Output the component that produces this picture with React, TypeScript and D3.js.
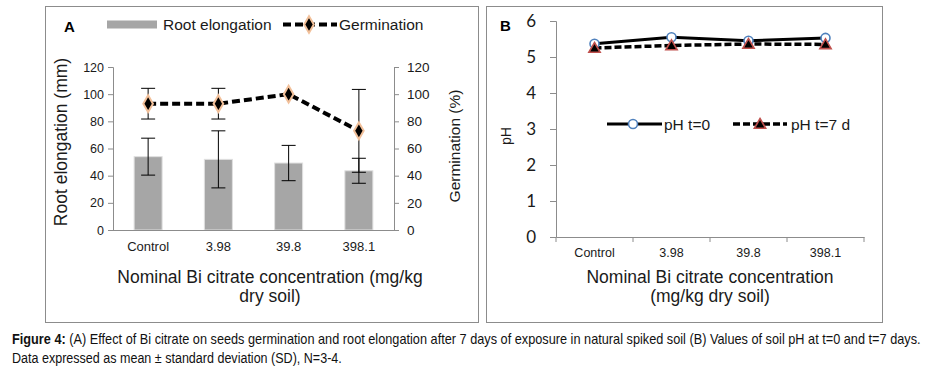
import React, { useEffect, useRef } from "react";
import * as d3 from "d3";

// shared categories
const concentrations = ["Control", "3.98", "39.8", "398.1"];

// panel A
const rootElongation = [54, 52, 49.3, 43.6];
const rootSD = [13.6, 21, 13, 9.2];
const germination = [93, 93, 100, 73];
const germinationSD = [11.3, 11.3, 0, 30.5];
const axisATicks = [0, 20, 40, 60, 80, 100, 120];

// panel B
const phT0 = [5.37, 5.55, 5.45, 5.53];
const phT7 = [5.25, 5.32, 5.36, 5.35];
const axisBTicks = [0, 1, 2, 3, 4, 5, 6];

const captionLine1 = "(A) Effect of Bi citrate on seeds germination and root elongation after 7 days of exposure in natural spiked soil (B) Values of soil pH at t=0 and t=7 days.";
const captionLine2 = "Data expressed as mean \u00b1 standard deviation (SD), N=3-4.";

const FONT = "'Liberation Sans', Arial, sans-serif";

export default function App() {
  const ref = useRef<SVGSVGElement>(null);

  useEffect(() => {
    document.body.style.margin = "0";
    const svg = d3.select(ref.current);
    svg.selectAll("*").remove();
    svg.style("font-family", FONT);

    // ---------- panel boxes ----------
    svg.append("rect").attr("x", 45.5).attr("y", 6.5).attr("width", 433).attr("height", 316)
      .attr("fill", "white").attr("stroke", "#8c8c8c").attr("stroke-width", 1);
    svg.append("rect").attr("x", 486.5).attr("y", 6.5).attr("width", 396).attr("height", 316)
      .attr("fill", "white").attr("stroke", "#8c8c8c").attr("stroke-width", 1);

    // ========== PANEL A ==========
    const gA = svg.append("g");
    const xA = d3.scaleBand().domain(concentrations).range([113, 394]);
    const yA = d3.scaleLinear().domain([0, 120]).range([230, 67]);

    const leftAxis = gA.append("g").attr("transform", "translate(113,0)")
      .call(d3.axisLeft(yA).tickValues(axisATicks).tickSize(5).tickPadding(4));
    const rightAxis = gA.append("g").attr("transform", "translate(394,0)")
      .call(d3.axisRight(yA).tickValues(axisATicks).tickSize(5).tickPadding(8));
    [leftAxis, rightAxis].forEach(ax => {
      ax.select(".domain").attr("stroke", "#8c8c8c");
      ax.selectAll(".tick line").attr("stroke", "#8c8c8c");
      ax.selectAll("text").attr("font-size", 12.5).attr("font-family", FONT).attr("fill", "#1a1a1a");
    });
    rightAxis.selectAll("text").attr("font-size", 13.5);

    // bars
    gA.selectAll(".bar").data(rootElongation).join("rect")
      .attr("x", (d, i) => xA(concentrations[i])! + xA.bandwidth() / 2 - 14)
      .attr("y", d => yA(d))
      .attr("width", 28)
      .attr("height", d => yA(0) - yA(d))
      .attr("fill", "#a6a6a6").attr("stroke", "#e0e0e0").attr("stroke-width", 1);

    gA.append("line").attr("x1", 113).attr("x2", 394).attr("y1", 230.5).attr("y2", 230.5)
      .attr("stroke", "#8c8c8c");

    const cx = (i: number) => xA(concentrations[i])! + xA.bandwidth() / 2;

    // error bars
    const errBar = (g: any, x: number, lo: number, hi: number) => {
      g.append("line").attr("x1", x).attr("x2", x).attr("y1", lo).attr("y2", hi).attr("stroke", "black");
      g.append("line").attr("x1", x - 7).attr("x2", x + 7).attr("y1", lo).attr("y2", lo).attr("stroke", "black");
      g.append("line").attr("x1", x - 7).attr("x2", x + 7).attr("y1", hi).attr("y2", hi).attr("stroke", "black");
    };
    rootElongation.forEach((d, i) => errBar(gA, cx(i), yA(d - rootSD[i]), yA(d + rootSD[i])));
    germination.forEach((d, i) => {
      if (germinationSD[i] > 0) errBar(gA, cx(i), yA(d - germinationSD[i]), yA(d + germinationSD[i]));
    });

    // germination line
    const lineA = d3.line<number>().x((d, i) => cx(i)).y(d => yA(d));
    gA.append("path").datum(germination).attr("d", lineA)
      .attr("fill", "none").attr("stroke", "black").attr("stroke-width", 4)
      .attr("stroke-dasharray", "8,4");
    const diamond = d3.symbol().type(d3.symbolDiamond).size(80);
    gA.selectAll(".dia").data(germination).join("path")
      .attr("d", diamond)
      .attr("transform", (d, i) => `translate(${cx(i)},${yA(d)})`)
      .attr("fill", "black").attr("stroke", "#f2c09a").attr("stroke-width", 2);

    gA.selectAll(".xl").data(concentrations).join("text")
      .attr("x", (d, i) => cx(i)).attr("y", 251)
      .attr("text-anchor", "middle").attr("font-size", 13).attr("fill", "#1a1a1a")
      .text(d => d);

    // titles
    gA.append("text").attr("x", 270).attr("y", 283).attr("text-anchor", "middle")
      .attr("font-size", 17.5).attr("fill", "#1a1a1a").text("Nominal Bi citrate concentration (mg/kg");
    gA.append("text").attr("x", 270).attr("y", 302).attr("text-anchor", "middle")
      .attr("font-size", 17.5).attr("fill", "#1a1a1a").text("dry soil)");
    gA.append("text").attr("transform", "translate(67,142) rotate(-90)").attr("text-anchor", "middle")
      .attr("font-size", 17.5).attr("fill", "#1a1a1a").text("Root elongation (mm)");
    gA.append("text").attr("transform", "translate(460,146) rotate(-90)").attr("text-anchor", "middle")
      .attr("font-size", 15.5).attr("fill", "#1a1a1a").text("Germination (%)");
    gA.append("text").attr("x", 64).attr("y", 32).attr("font-size", 15).attr("font-weight", "bold")
      .text("A");

    // legend A
    gA.append("rect").attr("x", 107).attr("y", 20.5).attr("width", 50).attr("height", 8).attr("fill", "#a6a6a6");
    gA.append("text").attr("x", 163).attr("y", 29.5).attr("font-size", 15.5).attr("fill", "#1a1a1a").text("Root elongation");
    gA.append("line").attr("x1", 283).attr("x2", 337).attr("y1", 24.5).attr("y2", 24.5)
      .attr("stroke", "black").attr("stroke-width", 4).attr("stroke-dasharray", "8,4");
    gA.append("path").attr("d", diamond).attr("transform", "translate(309,24.5)")
      .attr("fill", "black").attr("stroke", "#f2c09a").attr("stroke-width", 2);
    gA.append("text").attr("x", 339).attr("y", 29.5).attr("font-size", 15.5).attr("fill", "#1a1a1a").text("Germination");

    // ========== PANEL B ==========
    const gB = svg.append("g");
    const xB = d3.scaleBand().domain(concentrations).range([556, 864]);
    const yB = d3.scaleLinear().domain([0, 6]).range([237, 21]);
    const bx = (i: number) => xB(concentrations[i])! + xB.bandwidth() / 2;

    const leftB = gB.append("g").attr("transform", "translate(556,0)")
      .call(d3.axisLeft(yB).tickValues(axisBTicks).tickFormat(d3.format("d")).tickSize(6).tickPadding(14));
    leftB.select(".domain").attr("stroke", "#8c8c8c");
    leftB.selectAll(".tick line").attr("stroke", "#8c8c8c");
    leftB.selectAll("text").attr("font-size", 17).attr("font-family", "Lato, 'Open Sans', sans-serif")
      .attr("fill", "#1a1a1a");

    const bottomB = gB.append("g").attr("transform", "translate(0,237)")
      .call(d3.axisBottom(xB).tickSize(0).tickPadding(11));
    bottomB.select(".domain").attr("stroke", "#8c8c8c");
    bottomB.selectAll("text").attr("font-size", 12.5).attr("font-family", FONT).attr("fill", "#1a1a1a");
    // category boundary ticks
    gB.selectAll(".bt").data(concentrations.concat([""])).join("line")
      .attr("x1", (d, i) => 556 + i * xB.step()).attr("x2", (d, i) => 556 + i * xB.step())
      .attr("y1", 237).attr("y2", 242).attr("stroke", "#8c8c8c");

    const lineB = d3.line<number>().x((d, i) => bx(i)).y(d => yB(d));
    gB.append("path").datum(phT7).attr("d", lineB).attr("fill", "none")
      .attr("stroke", "black").attr("stroke-width", 3.5).attr("stroke-dasharray", "7,3");
    gB.append("path").datum(phT0).attr("d", lineB).attr("fill", "none")
      .attr("stroke", "black").attr("stroke-width", 3);

    const tri = d3.symbol().type(d3.symbolTriangle).size(55);
    gB.selectAll(".c0").data(phT0).join("circle")
      .attr("cx", (d, i) => bx(i)).attr("cy", d => yB(d)).attr("r", 4.5)
      .attr("fill", "white").attr("stroke", "#4f81bd").attr("stroke-width", 1.6);
    gB.selectAll(".t7").data(phT7).join("path")
      .attr("d", tri).attr("transform", (d, i) => `translate(${bx(i)},${yB(d) + 1})`)
      .attr("fill", "black").attr("stroke", "#c0504d").attr("stroke-width", 1.6);

    // legend B
    gB.append("line").attr("x1", 607).attr("x2", 662).attr("y1", 124).attr("y2", 124)
      .attr("stroke", "black").attr("stroke-width", 3);
    gB.append("circle").attr("cx", 633).attr("cy", 124).attr("r", 4.5)
      .attr("fill", "white").attr("stroke", "#4f81bd").attr("stroke-width", 1.6);
    gB.append("text").attr("x", 664).attr("y", 129.5).attr("font-size", 15.5).attr("fill", "#1a1a1a").text("pH t=0");
    gB.append("line").attr("x1", 733).attr("x2", 787).attr("y1", 124).attr("y2", 124)
      .attr("stroke", "black").attr("stroke-width", 3.5).attr("stroke-dasharray", "7,3");
    gB.append("path").attr("d", tri).attr("transform", "translate(760,125)")
      .attr("fill", "black").attr("stroke", "#c0504d").attr("stroke-width", 1.6);
    gB.append("text").attr("x", 791).attr("y", 129.5).attr("font-size", 15.5).attr("fill", "#1a1a1a").text("pH t=7 d");

    gB.append("text").attr("x", 500).attr("y", 31).attr("font-size", 15).attr("font-weight", "bold").text("B");
    gB.append("text").attr("transform", "translate(511,136) rotate(-90)").attr("text-anchor", "middle")
      .attr("font-size", 14).attr("fill", "#1a1a1a").text("pH");
    gB.append("text").attr("x", 710).attr("y", 283).attr("text-anchor", "middle")
      .attr("font-size", 17.5).attr("fill", "#1a1a1a").text("Nominal Bi citrate concentration");
    gB.append("text").attr("x", 710).attr("y", 302).attr("text-anchor", "middle")
      .attr("font-size", 17.5).attr("fill", "#1a1a1a").text("(mg/kg dry soil)");

    // ---------- caption (condensed by horizontal scaling to fit) ----------
    const fitText = (node: any, x: number, y: number, width: number) => {
      const len = node.node().getComputedTextLength();
      node.attr("transform", `translate(${x},${y}) scale(${width / len},1)`);
    };
    const cap = svg.append("text").attr("font-size", 14).attr("fill", "#111");
    cap.append("tspan").attr("font-weight", "bold").text("Figure 4: ");
    cap.append("tspan").text(captionLine1);
    fitText(cap, 12, 344, 909);
    const cap2 = svg.append("text").attr("font-size", 14).attr("fill", "#111").text(captionLine2);
    fitText(cap2, 12, 363, 330);
  }, []);

  return <svg ref={ref} width={940} height={372} style={{ display: "block" }} />;
}
